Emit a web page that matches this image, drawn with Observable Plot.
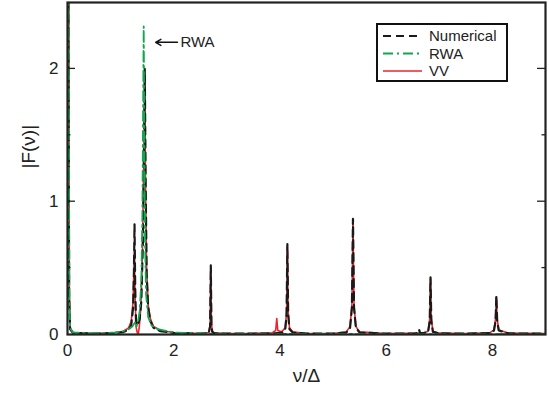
<!DOCTYPE html>
<html>
<head>
<meta charset="utf-8">
<script src="https://cdn.jsdelivr.net/npm/d3@7"></script>
<script src="https://cdn.jsdelivr.net/npm/@observablehq/plot@0.6"></script>
<style>
  html, body { margin: 0; padding: 0; background: #fff; }
  #chart svg { display: block; }
</style>
</head>
<body>
<div id="chart"></div>
<script>
// ---- data ----
const numX = [0.015, 0.03, 0.05, 0.1, 0.5, 0.9, 1.05, 1.15, 1.2, 1.235, 1.25, 1.262, 1.275, 1.29, 1.31, 1.33, 1.36, 1.39, 1.42, 1.44, 1.455, 1.47, 1.49, 1.52, 1.56, 1.62, 1.75, 2.0, 2.5, 2.66, 2.685, 2.698, 2.71, 2.725, 2.76, 3.0, 3.5, 3.9, 4.05, 4.1, 4.125, 4.14, 4.155, 4.18, 4.24, 4.5, 5.0, 5.25, 5.32, 5.355, 5.375, 5.395, 5.43, 5.5, 6.0, 6.55, 6.6, 6.62, 6.64, 6.7, 6.79, 6.82, 6.835, 6.85, 6.88, 7.0, 7.5, 7.95, 8.03, 8.06, 8.075, 8.09, 8.12, 8.3, 9];
const numY = [2.6, 0.3, 0.04, 0.012, 0.006, 0.01, 0.018, 0.035, 0.07, 0.2, 0.45, 0.83, 0.35, 0.1, 0.07, 0.08, 0.12, 0.25, 0.7, 1.4, 2.0, 1.2, 0.45, 0.2, 0.1, 0.05, 0.025, 0.012, 0.006, 0.012, 0.06, 0.52, 0.08, 0.02, 0.01, 0.006, 0.006, 0.008, 0.015, 0.04, 0.15, 0.68, 0.15, 0.04, 0.015, 0.006, 0.006, 0.015, 0.05, 0.2, 0.87, 0.2, 0.05, 0.015, 0.006, 0.008, 0.012, 0.035, 0.01, 0.01, 0.02, 0.1, 0.43, 0.1, 0.02, 0.008, 0.006, 0.01, 0.03, 0.1, 0.29, 0.1, 0.03, 0.008, 0.006];

const rwaX = [0.02, 0.035, 0.05, 0.1, 0.5, 0.9, 1.05, 1.15, 1.22, 1.27, 1.3, 1.33, 1.36, 1.39, 1.41, 1.425, 1.435, 1.445, 1.46, 1.48, 1.52, 1.58, 1.7, 2.0, 2.5, 3.0, 4.0, 5.0, 6.0, 7.0, 8.0, 9];
const rwaY = [2.6, 0.3, 0.05, 0.015, 0.008, 0.015, 0.025, 0.04, 0.06, 0.09, 0.06, 0.1, 0.18, 0.4, 0.9, 1.8, 2.32, 1.6, 0.7, 0.3, 0.13, 0.07, 0.04, 0.015, 0.008, 0.005, 0.004, 0.004, 0.003, 0.003, 0.003, 0.003];

const vvX = [0.025, 0.035, 0.05, 0.1, 0.5, 0.9, 1.05, 1.15, 1.2, 1.235, 1.25, 1.26, 1.272, 1.29, 1.31, 1.33, 1.35, 1.38, 1.41, 1.435, 1.455, 1.47, 1.49, 1.52, 1.56, 1.62, 1.75, 2.0, 2.5, 2.66, 2.685, 2.698, 2.71, 2.725, 2.76, 3.0, 3.5, 3.85, 3.92, 3.94, 3.96, 4.03, 4.1, 4.125, 4.14, 4.155, 4.18, 4.24, 4.5, 5.0, 5.25, 5.32, 5.355, 5.375, 5.395, 5.43, 5.5, 6.0, 6.6, 6.7, 6.79, 6.82, 6.835, 6.85, 6.88, 7.0, 7.5, 7.95, 8.03, 8.06, 8.075, 8.09, 8.12, 8.3, 9];
const vvY = [2.6, 0.3, 0.05, 0.015, 0.008, 0.015, 0.025, 0.05, 0.1, 0.25, 0.5, 0.62, 0.3, 0.06, 0.02, 0.0, 0.05, 0.2, 0.6, 1.3, 1.95, 1.1, 0.5, 0.22, 0.12, 0.06, 0.03, 0.015, 0.008, 0.015, 0.07, 0.5, 0.09, 0.025, 0.012, 0.008, 0.008, 0.012, 0.03, 0.12, 0.03, 0.02, 0.05, 0.17, 0.66, 0.17, 0.05, 0.02, 0.008, 0.008, 0.02, 0.06, 0.22, 0.85, 0.22, 0.06, 0.02, 0.008, 0.01, 0.012, 0.025, 0.12, 0.42, 0.12, 0.025, 0.01, 0.008, 0.012, 0.035, 0.12, 0.28, 0.12, 0.035, 0.01, 0.008];

const xTickLabels = [0, 2, 4, 6, 8];
const yTickLabels = [0, 1, 2];
const yMajorTicks = [1, 2];
const yMinorTicks = [0.5, 1.5];
const seriesNames = ["Numerical", "RWA", "VV"];
const arrowNote = {x1: 2.07, x2: 1.66, y: 2.2, text: "RWA"};

// ---- styles ----
const colors = {Numerical: "#1a1a1a", RWA: "#13a651", VV: "#e8262d"};
const dashes = {Numerical: "8,5", RWA: "10,4,2,4", VV: null};
const widths = {Numerical: 2.2, RWA: 1.8, VV: 1.6};

const zip = (xs, ys) => xs.map((x, i) => ({x, y: ys[i]}));
const numData = zip(numX, numY);
const rwaData = zip(rwaX, rwaY);
const vvData = zip(vvX, vvY);

const font = "'Liberation Sans', 'DejaVu Sans', sans-serif";

const plot = Plot.plot({
  width: 549,
  height: 397,
  marginLeft: 67,
  marginRight: 4,
  marginTop: 2,
  marginBottom: 63,
  style: {fontFamily: font, fontSize: "17px", color: "#222", background: "#fff"},
  x: {domain: [0, 9]},
  y: {domain: [0, 2.5]},
  marks: [
    Plot.line(vvData, {x: "x", y: "y", stroke: colors.VV, strokeWidth: widths.VV, clip: true}),
    Plot.line(numData, {x: "x", y: "y", stroke: colors.Numerical, strokeWidth: widths.Numerical, strokeDasharray: dashes.Numerical, clip: true}),
    Plot.line(rwaData, {x: "x", y: "y", stroke: colors.RWA, strokeWidth: widths.RWA, strokeDasharray: dashes.RWA, clip: true}),
    Plot.axisX({ticks: xTickLabels, tickSize: 0, tickPadding: 9, tickFormat: d => String(d), label: null, fontSize: 17}),
    Plot.axisY({ticks: yTickLabels, tickSize: 0, tickPadding: 9, tickFormat: d => String(d), label: null, fontSize: 17}),
    Plot.frame({stroke: "#222", strokeWidth: 2.2}),
    Plot.arrow([arrowNote], {x1: "x1", x2: "x2", y1: "y", y2: "y", stroke: "#111", strokeWidth: 1.5, headLength: 6, bend: 0}),
    Plot.text([arrowNote], {x: "x1", y: "y", text: "text", textAnchor: "start", dx: 3, fontSize: 15, fill: "#222"}),
    Plot.text(["ν/Δ"], {frameAnchor: "bottom", text: d => d, dy: 47, fontSize: 19, fill: "#222"}),
    Plot.text(["|F(ν)|"], {frameAnchor: "left", text: d => d, rotate: -90, dx: -39, fontSize: 19, fill: "#222"})
  ]
});

const svg = d3.select(plot);
const ys = plot.scale("y");
const xs = plot.scale("x");
const xL = xs.range[0], xR = xs.range[1];
const sy = d3.scaleLinear(ys.domain, ys.range);

// inward ticks on left and right frame edges
const tg = svg.append("g").attr("stroke", "#222").attr("stroke-width", 1.3);
[[yMajorTicks, 8], [yMinorTicks, 3.5]].forEach(([ticks, len]) => {
  ticks.forEach(t => {
    const py = sy(t);
    tg.append("line").attr("x1", xL).attr("x2", xL + len).attr("y1", py).attr("y2", py);
    tg.append("line").attr("x1", xR).attr("x2", xR - len).attr("y1", py).attr("y2", py);
  });
});

// legend box inside the plot (upper right)
const lg = svg.append("g").attr("transform", "translate(377,24)");
lg.append("rect").attr("width", 130).attr("height", 57).attr("fill", "#fff").attr("stroke", "#111").attr("stroke-width", 2);
seriesNames.forEach((name, i) => {
  const yy = 12 + i * 17.5;
  lg.append("line").attr("x1", 6).attr("x2", 45).attr("y1", yy).attr("y2", yy)
    .attr("stroke", colors[name]).attr("stroke-width", widths[name])
    .attr("stroke-dasharray", dashes[name]);
  lg.append("text").attr("x", 52).attr("y", yy).attr("dy", "0.36em")
    .attr("text-anchor", "start")
    .attr("font-size", 15).attr("fill", "#222").attr("font-family", font).text(name);
});

document.getElementById("chart").appendChild(plot);
</script>
</body>
</html>
